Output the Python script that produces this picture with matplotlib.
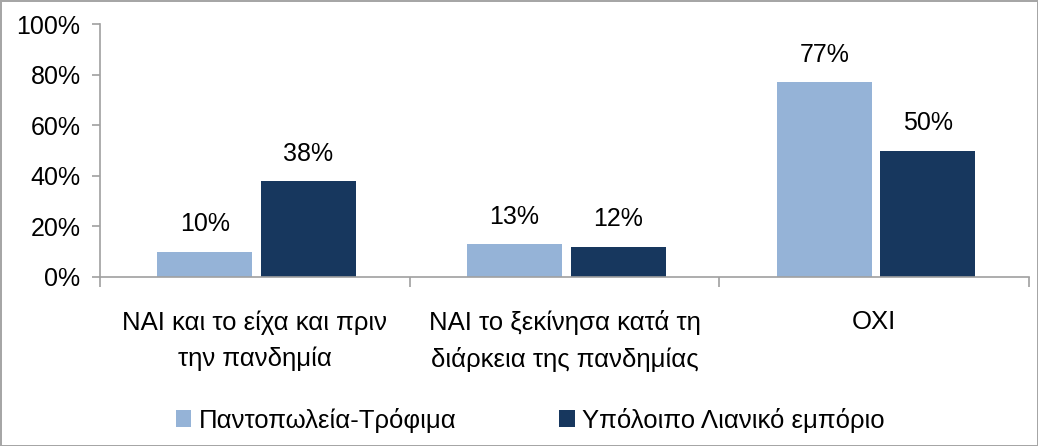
import matplotlib.pyplot as plt
from matplotlib.ticker import FuncFormatter, FixedLocator
import numpy as np

categories = ['ΝΑΙ και το είχα και πριν\nτην πανδημία',
              'ΝΑΙ το ξεκίνησα κατά τη\nδιάρκεια της πανδημίας',
              'ΟΧΙ']
series_names = ['Παντοπωλεία-Τρόφιμα', 'Υπόλοιπο Λιανικό εμπόριο']
grocery = [10, 13, 77]
other_retail = [38, 12, 50]
colors = ['#95b3d7', '#17375e']

plt.rcParams['font.family'] = ['Liberation Sans', 'DejaVu Sans']

fig = plt.figure(figsize=(10.38, 4.46), dpi=100)
fig.patch.set_edgecolor('#a6a6a6')
fig.patch.set_linewidth(2)
ax = fig.add_axes([0.0963, 0.379, 0.895, 0.567])

x = np.arange(len(categories))
w = 0.307
off = 0.167
for vals, c, name, dx in [(grocery, colors[0], series_names[0], -off + 0.006),
                          (other_retail, colors[1], series_names[1], off + 0.006)]:
    bars = ax.bar(x + dx, vals, w, color=c, label=name)
    for b, v in zip(bars, vals):
        ax.annotate(f'{v}%', (b.get_x() + b.get_width() / 2, v),
                    xytext=(0, 11), textcoords='offset points',
                    ha='center', va='bottom', fontsize=18)

ax.set_xlim(-0.5, 2.5)
ax.set_ylim(0, 100)
ax.set_yticks(range(0, 101, 20))
ax.yaxis.set_major_formatter(FuncFormatter(lambda v, p: f'{v:.0f}%'))
ax.set_xticks(x)
ax.set_xticklabels(categories, fontsize=18.5, linespacing=1.6)
ax.xaxis.set_minor_locator(FixedLocator([-0.5, 0.5, 1.5, 2.5]))
ax.tick_params(axis='x', which='major', length=0, pad=24)
ax.tick_params(axis='x', which='minor', length=7, color='#a0a0a0', width=1.2)
ax.tick_params(axis='y', length=6, color='#a0a0a0', width=1.2, labelsize=18, pad=8)
for s in ['top', 'right']:
    ax.spines[s].set_visible(False)
for s in ['left', 'bottom']:
    ax.spines[s].set_color('#a0a0a0')
    ax.spines[s].set_linewidth(1.2)

fig.legend(loc='center', bbox_to_anchor=(0.511, 0.058), ncol=2, frameon=False,
           fontsize=18.5, handlelength=0.6, handleheight=0.6, handletextpad=0.3,
           columnspacing=4.0)

fig.savefig('out.png', dpi=100)
